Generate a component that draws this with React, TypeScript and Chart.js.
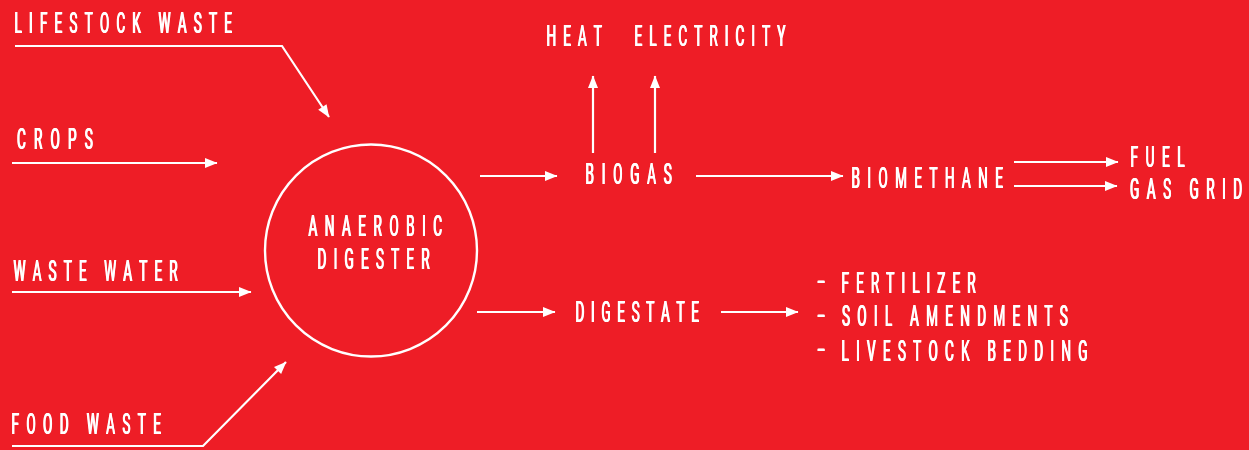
import React, { useEffect, useRef } from 'react';
import { Chart, registerables } from 'chart.js';

Chart.register(...registerables);

// ---- diagram content (coordinates are in the diagram's own value units) ----
const labelTexts = [
  'LIFESTOCK WASTE', 'CROPS', 'WASTE WATER', 'FOOD WASTE',
  'ANAEROBIC', 'DIGESTER',
  'HEAT', 'ELECTRICITY', 'BIOGAS', 'BIOMETHANE', 'FUEL', 'GAS GRID',
  'DIGESTATE', 'FERTILIZER', 'SOIL AMENDMENTS', 'LIVESTOCK BEDDING',
  '-', '-', '-',
];
const labelLeft = [15, 17, 13, 12, 308, 318, 547, 635, 586, 852, 1131, 1130, 576, 842, 842, 842, 817, 817, 817];
const labelRight = [232, 93, 178, 161, 442, 430, 602, 786, 672, 1003, 1185, 1242, 699, 976, 1068, 1087, 825, 825, 825];
const labelBaseline = [33, 149, 281, 434, 236, 269, 46, 46, 184, 188, 167, 199, 322, 293, 326, 361, 291, 325, 359];

// flows: polylines, the last point of each is the arrow tip
const flowNames = [
  'lifestock', 'crops', 'wastewater', 'food',
  'toBiogas', 'toDigestate', 'heat', 'electricity',
  'toBiomethane', 'fuel', 'gasGrid', 'digestateUses',
];
const flowX = [
  [15, 282, 329], [12, 217], [12, 251], [12, 203, 286],
  [480, 557], [477, 555], [593, 593], [655, 655],
  [696, 843], [1014, 1118], [1014, 1117], [721, 798],
];
const flowY = [
  [46, 46, 117], [163, 163], [292, 292], [446, 446, 362],
  [176, 176], [312, 312], [153, 76], [153, 76],
  [176, 176], [162, 162], [186, 186], [312, 312],
];

// the digester node
const digesterX = [371];
const digesterY = [250.5];

// ---- styles ----
const BG = '#EE1D26';
const INK = '#FFFFFF';
const FONT_SIZE = 29.5;
const SX = 0.46;
const SMEAR = [0, 0.5, 0.9];
const HEAD_LEN = 12;
const HEAD_W = 10;

const backgroundPlugin = {
  id: 'bgFill',
  beforeDraw(chart: any) {
    const { ctx, width, height } = chart;
    ctx.save();
    ctx.fillStyle = BG;
    ctx.fillRect(0, 0, width, height);
    ctx.restore();
  },
};

const arrowPlugin = {
  id: 'arrowHeads',
  afterDatasetsDraw(chart: any) {
    const ctx = chart.ctx;
    chart.data.datasets.forEach((ds: any, i: number) => {
      if (!ds.arrow) return;
      const pts = chart.getDatasetMeta(i).data;
      const tip = pts[pts.length - 1];
      const prev = pts[pts.length - 2];
      const ang = Math.atan2(tip.y - prev.y, tip.x - prev.x);
      ctx.save();
      ctx.translate(tip.x, tip.y);
      ctx.rotate(ang);
      ctx.beginPath();
      ctx.moveTo(0.5, 0);
      ctx.lineTo(-HEAD_LEN, -HEAD_W / 2);
      ctx.lineTo(-HEAD_LEN, HEAD_W / 2);
      ctx.closePath();
      ctx.fillStyle = INK;
      ctx.fill();
      ctx.restore();
    });
  },
};

const textPlugin = {
  id: 'diagramText',
  afterDatasetsDraw(chart: any) {
    const { ctx } = chart;
    const xs = chart.scales.x;
    const ys = chart.scales.y;
    ctx.save();
    ctx.fillStyle = INK;
    ctx.font = `400 ${FONT_SIZE}px Roboto, "Noto Sans", "DejaVu Sans", sans-serif`;
    ctx.textBaseline = 'alphabetic';
    ctx.textAlign = 'left';
    const smearW = SMEAR[SMEAR.length - 1];
    labelTexts.forEach((txt, i) => {
      const left = xs.getPixelForValue(labelLeft[i]);
      const right = xs.getPixelForValue(labelRight[i]);
      const base = ys.getPixelForValue(labelBaseline[i]);
      const chars = Array.from(txt);
      const ms = chars.map((c) => ctx.measureText(c));
      const adv = ms.map((m: any) => m.width);
      const first = ms[0];
      const last = ms[ms.length - 1];
      const T = right - left - smearW;
      let sx = SX;
      let gap = 0;
      if (chars.length === 1) {
        const ink = first.actualBoundingBoxLeft + first.actualBoundingBoxRight;
        sx = T / ink;
      } else {
        let inner = 0;
        for (let k = 0; k < chars.length - 1; k++) inner += adv[k];
        const natural = (inner + first.actualBoundingBoxLeft + last.actualBoundingBoxRight) * sx;
        gap = (T - natural) / (chars.length - 1);
      }
      let cx = left + first.actualBoundingBoxLeft * sx;
      chars.forEach((c, k) => {
        for (const off of SMEAR) {
          ctx.save();
          ctx.translate(cx + off, base);
          ctx.scale(sx, 1);
          ctx.fillText(c, 0, 0);
          ctx.restore();
        }
        cx += adv[k] * sx + gap;
      });
    });
    ctx.restore();
  },
};

export default function App() {
  const canvasRef = useRef<HTMLCanvasElement | null>(null);

  useEffect(() => {
    if (!canvasRef.current) return;
    const flowSets = flowNames.map((name, i) => ({
      label: name,
      data: flowX[i].map((xv, k) => ({ x: xv, y: flowY[i][k] })),
      showLine: true,
      borderColor: INK,
      borderWidth: 2.2,
      pointRadius: 0,
      pointHoverRadius: 0,
      tension: 0,
      fill: false,
      clip: false,
      arrow: true,
    }));
    const nodeSet = {
      label: 'digester',
      data: digesterX.map((xv, k) => ({ x: xv, y: digesterY[k] })),
      showLine: false,
      pointRadius: 106,
      pointHoverRadius: 106,
      pointBorderWidth: 2.4,
      pointBorderColor: INK,
      pointBackgroundColor: 'rgba(0,0,0,0)',
      clip: false,
      arrow: false,
    };
    const chart = new Chart(canvasRef.current, {
      type: 'scatter',
      data: { datasets: [...flowSets, nodeSet] as any },
      options: {
        animation: false,
        responsive: false,
        devicePixelRatio: 1,
        events: [],
        layout: { padding: 0, autoPadding: false },
        plugins: { legend: { display: false }, tooltip: { enabled: false } },
        scales: {
          x: { type: 'linear', min: 0, max: 1249, display: false },
          y: { type: 'linear', min: 0, max: 450, reverse: true, display: false },
        },
      },
      plugins: [backgroundPlugin, arrowPlugin, textPlugin],
    } as any);
    return () => chart.destroy();
  }, []);

  return (
    <div style={{ position: 'absolute', left: 0, top: 0, width: 1249, height: 450 }}>
      <canvas ref={canvasRef} width={1249} height={450} style={{ display: 'block' }} />
    </div>
  );
}
